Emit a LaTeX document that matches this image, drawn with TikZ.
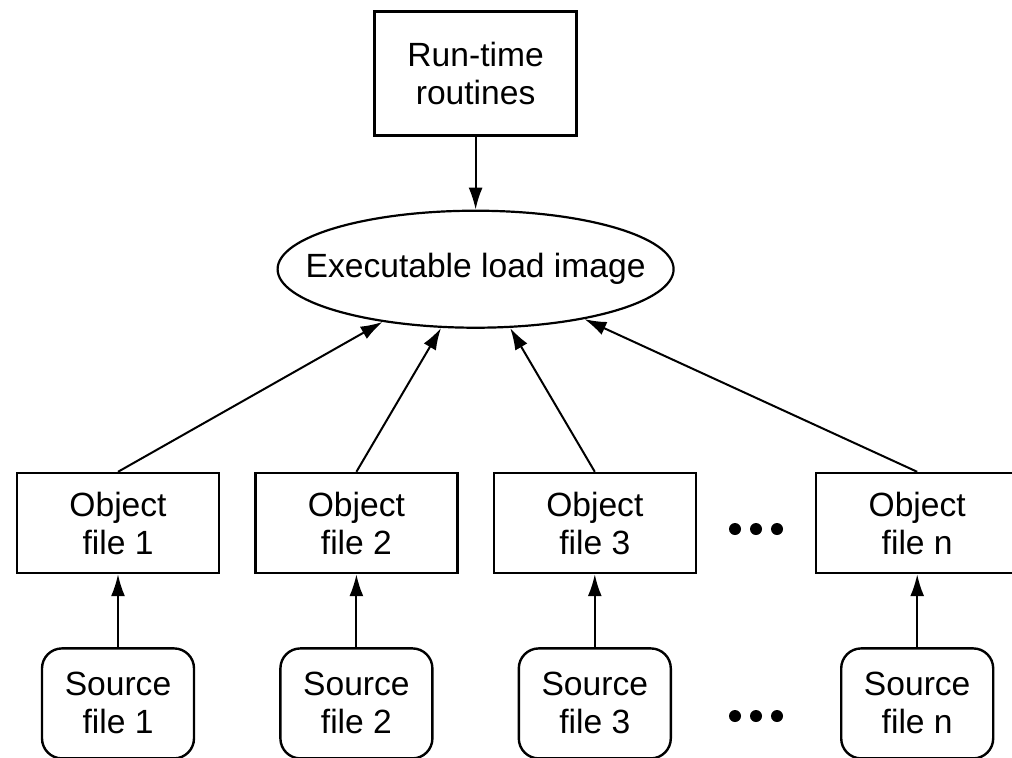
\documentclass[tikz,border=0pt]{standalone}
\usepackage{fontspec}
\setmainfont{Liberation Sans}
\usetikzlibrary{
    arrows.meta,
    calc,
    positioning,
    shapes.geometric
}

\begin{document}
\begin{tikzpicture}[
      x=0.5pt, y=-0.5pt,
      font=\fontsize{16.8pt}{19pt}\selectfont,
      node distance=36.5pt and 17pt,
      objbox/.style={draw, line width=1.2pt, rectangle, align=center, minimum width=101pt, minimum height=50pt, inner sep=2pt},
      srcbox/.style={draw, line width=1.2pt, rounded corners=10pt, align=center, minimum width=76pt, minimum height=55pt, inner sep=2pt},
      rtbox/.style={draw, line width=1.2pt, rectangle, align=center, minimum width=101pt, minimum height=62pt, inner sep=2pt},
      exebox/.style={draw, line width=1.1pt, ellipse, align=center, minimum width=198pt, minimum height=58.5pt, inner xsep=-20pt, inner ysep=0pt},
      arw/.style={line width=1pt, -{Latex[length=11pt, width=7pt]}}]
    \useasboundingbox (0,0) rectangle (1012,757);
    \node[objbox] (obj1) at (118,523) {Object\\file 1};
    \node[objbox, right=of obj1] (obj2) {Object\\file 2};
    \node[objbox, right=of obj2] (obj3) {Object\\file 3};
    \node[objbox, right=59pt of obj3] (objn) {Object\\file n};
    \node[srcbox, below=of obj1] (src1) {Source\\file 1};
    \node[srcbox, below=of obj2] (src2) {Source\\file 2};
    \node[srcbox, below=of obj3] (src3) {Source\\file 3};
    \node[srcbox, below=of objn] (srcn) {Source\\file n};
    \coordinate (mid) at ($(obj2.north)!0.5!(obj3.north)$);
    \node[exebox, above=71.5pt of mid] (exe) {Executable load image};
    \node[rtbox, above=of exe] (rt) {Run-time\\routines};
    % the dots between file 3 and file n
    \coordinate (odots) at ($(obj3.east)!0.5!(objn.west)+(0,6)$);
    \coordinate (sdots) at ($(obj3.east)!0.5!(objn.west)+(0,193)$);
    \foreach \dx in {-21,0,21} {
      \fill ([xshift=\dx*0.5pt]odots) circle (3pt);
      \fill ([xshift=\dx*0.5pt]sdots) circle (3pt);
    }
    \draw[arw] (rt) -- (exe);
    \draw[arw] (obj1.north) -- (exe);
    \draw[arw] (obj2.north) -- (exe);
    \draw[arw] (obj3.north) -- (exe);
    \draw[arw] (objn.north) -- (exe);
    \draw[arw] (src1) -- (obj1);
    \draw[arw] (src2) -- (obj2);
    \draw[arw] (src3) -- (obj3);
    \draw[arw] (srcn) -- (objn);
  \end{tikzpicture}
\end{document}
